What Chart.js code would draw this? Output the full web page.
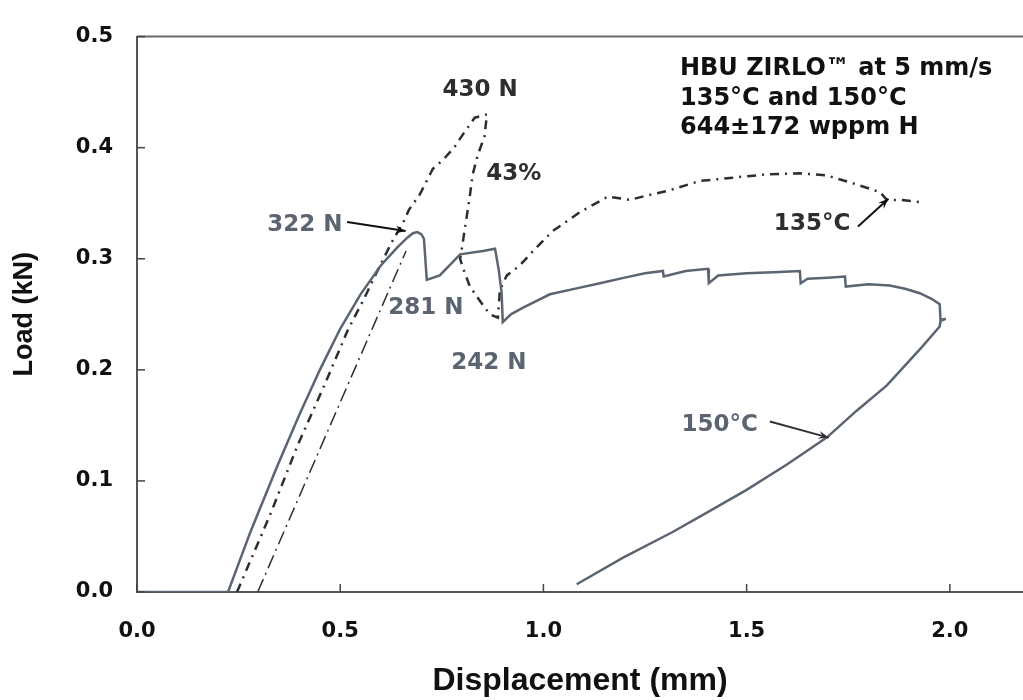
<!DOCTYPE html>
<html>
<head>
<meta charset="utf-8">
<script src="https://cdn.jsdelivr.net/npm/chart.js@4.4.0/dist/chart.umd.min.js"></script>
<style>
  html, body { margin: 0; padding: 0; background: #fff; }
</style>
</head>
<body>
<canvas id="chart" width="1023" height="700"></canvas>
<script>
// 150°C test (solid gray line), displacement in mm, load in kN
var disp150 = [0, 0.224, 0.28, 0.347, 0.40, 0.45, 0.50, 0.55, 0.60, 0.64, 0.665, 0.679, 0.69, 0.70, 0.706, 0.713,
    0.745, 0.795, 0.851, 0.881, 0.89, 0.897, 0.90, 0.92, 0.95, 1.016, 1.09, 1.139, 1.20, 1.25, 1.294, 1.296,
    1.35, 1.405, 1.407, 1.43, 1.50, 1.58, 1.631, 1.633, 1.65, 1.70, 1.742, 1.744, 1.80, 1.852, 1.89, 1.926,
    1.955, 1.975, 1.977, 1.99, 1.977, 1.975, 1.93, 1.845, 1.77, 1.697, 1.60, 1.50, 1.40, 1.318, 1.196, 1.082];
var load150 = [0, 0, 0.055, 0.115, 0.160, 0.200, 0.237, 0.268, 0.294, 0.310, 0.319, 0.323, 0.324, 0.322, 0.318, 0.281,
    0.285, 0.304, 0.307, 0.309, 0.290, 0.270, 0.243, 0.250, 0.256, 0.268, 0.274, 0.278, 0.283, 0.287, 0.289, 0.284,
    0.289, 0.291, 0.278, 0.285, 0.287, 0.288, 0.289, 0.278, 0.282, 0.283, 0.284, 0.275, 0.277, 0.276, 0.273, 0.269,
    0.264, 0.259, 0.245, 0.246, 0.244, 0.239, 0.220, 0.186, 0.163, 0.139, 0.115, 0.092, 0.071, 0.054, 0.031, 0.007];

// 135°C test (dash-dot line)
var disp135 = [0.246, 0.327, 0.394, 0.462, 0.519, 0.56, 0.59, 0.627, 0.654, 0.669, 0.696, 0.728, 0.753, 0.782,
    0.802, 0.831, 0.861, 0.855, 0.839, 0.826, 0.818, 0.80, 0.795, 0.80, 0.819, 0.844, 0.868, 0.888, 0.893, 0.91,
    0.942, 0.972, 1.023, 1.09, 1.159, 1.213, 1.255, 1.304, 1.385, 1.466, 1.55, 1.631, 1.697, 1.761, 1.828, 1.845,
    1.877, 1.926];
var load135 = [0, 0.069, 0.131, 0.187, 0.236, 0.265, 0.288, 0.315, 0.332, 0.344, 0.358, 0.381, 0.389, 0.401,
    0.412, 0.427, 0.430, 0.410, 0.394, 0.376, 0.354, 0.311, 0.300, 0.294, 0.275, 0.262, 0.250, 0.247, 0.272, 0.285,
    0.294, 0.306, 0.325, 0.342, 0.356, 0.353, 0.357, 0.361, 0.370, 0.373, 0.376, 0.377, 0.375, 0.368, 0.360, 0.353,
    0.353, 0.351];

// offset line (thin long dash-dot)
var dispOffset = [0.297, 0.662];
var loadOffset = [0, 0.307];

// axis ticks
var xTicks = [0, 0.5, 1.0, 1.5, 2.0];
var yTicks = [0, 0.1, 0.2, 0.3, 0.4, 0.5];

var GRAY = '#5b6571';
var DARK = '#2e2e2e';
var TICK_FONT = { family: 'DejaVu Sans', weight: 'bold', size: 21 };

function toPoints(xs, ys) {
    return xs.map(function (v, i) { return { x: v, y: ys[i] }; });
}

// text notes placed in data units (label centres)
var notes = [
    { text: '430 N', x: 0.844, y: 0.452, color: DARK },
    { text: '43%', x: 0.927, y: 0.376, color: DARK },
    { text: '322 N', x: 0.413, y: 0.330, color: GRAY },
    { text: '281 N', x: 0.711, y: 0.256, color: GRAY },
    { text: '242 N', x: 0.866, y: 0.206, color: GRAY },
    { text: '135°C', x: 1.661, y: 0.331, color: DARK },
    { text: '150°C', x: 1.434, y: 0.150, color: GRAY }
];
var arrows = [
    { x1: 0.517, y1: 0.333, x2: 0.661, y2: 0.325, color: '#111' },
    { x1: 1.774, y1: 0.329, x2: 1.849, y2: 0.354, color: '#111' },
    { x1: 1.557, y1: 0.1535, x2: 1.702, y2: 0.139, color: '#333' }
];
var infoLines = ['HBU ZIRLO™ at 5 mm/s', '135°C and 150°C', '644±172 wppm H'];

function drawArrow(ctx, x1, y1, x2, y2, color) {
    ctx.strokeStyle = color;
    ctx.fillStyle = color;
    ctx.lineWidth = 2;
    ctx.beginPath();
    ctx.moveTo(x1, y1);
    ctx.lineTo(x2, y2);
    ctx.stroke();
    var a = Math.atan2(y2 - y1, x2 - x1), h = 11;
    ctx.beginPath();
    ctx.moveTo(x2, y2);
    ctx.lineTo(x2 - h * Math.cos(a - 0.38), y2 - h * Math.sin(a - 0.38));
    ctx.lineTo(x2 - h * 0.6 * Math.cos(a), y2 - h * 0.6 * Math.sin(a));
    ctx.lineTo(x2 - h * Math.cos(a + 0.38), y2 - h * Math.sin(a + 0.38));
    ctx.closePath();
    ctx.fill();
}

var overlay = {
    id: 'overlay',
    afterDraw: function (chart) {
        var ctx = chart.ctx, area = chart.chartArea;
        var xs = chart.scales.x, ys = chart.scales.y;
        ctx.save();

        // top frame line
        ctx.strokeStyle = '#6a6a6a';
        ctx.lineWidth = 2;
        ctx.beginPath();
        ctx.moveTo(area.left, area.top);
        ctx.lineTo(area.right, area.top);
        ctx.stroke();

        // inward tick marks
        ctx.strokeStyle = '#444';
        ctx.lineWidth = 1.5;
        xTicks.forEach(function (v) {
            var px = xs.getPixelForValue(v);
            ctx.beginPath();
            ctx.moveTo(px, area.bottom);
            ctx.lineTo(px, area.bottom - 8);
            ctx.stroke();
        });
        yTicks.forEach(function (v) {
            var py = ys.getPixelForValue(v);
            ctx.beginPath();
            ctx.moveTo(area.left, py);
            ctx.lineTo(area.left + 8, py);
            ctx.stroke();
        });

        // notes
        ctx.font = 'bold 23px "DejaVu Sans"';
        ctx.textAlign = 'center';
        ctx.textBaseline = 'middle';
        notes.forEach(function (n) {
            ctx.fillStyle = n.color;
            ctx.fillText(n.text, xs.getPixelForValue(n.x), ys.getPixelForValue(n.y));
        });

        arrows.forEach(function (a) {
            drawArrow(ctx, xs.getPixelForValue(a.x1), ys.getPixelForValue(a.y1),
                xs.getPixelForValue(a.x2), ys.getPixelForValue(a.y2), a.color);
        });

        // info block, top right
        ctx.font = 'bold 24px "DejaVu Sans"';
        ctx.textAlign = 'left';
        ctx.textBaseline = 'alphabetic';
        ctx.fillStyle = '#111';
        var left = xs.getPixelForValue(1.336);
        infoLines.forEach(function (t, i) {
            ctx.fillText(t, left, ys.getPixelForValue(0.465 - i * 0.0265));
        });

        ctx.restore();
    }
};

var ctx = document.getElementById('chart').getContext('2d');
var chart = new Chart(ctx, {
    type: 'scatter',
    data: {
        datasets: [{
            label: '150°C',
            data: toPoints(disp150, load150),
            showLine: true,
            borderColor: GRAY,
            borderWidth: 2.5,
            pointRadius: 0,
            tension: 0
        }, {
            label: '135°C',
            data: toPoints(disp135, load135),
            showLine: true,
            borderColor: DARK,
            borderWidth: 2.5,
            borderDash: [9, 6, 2, 6],
            pointRadius: 0,
            tension: 0
        }, {
            label: 'offset',
            data: toPoints(dispOffset, loadOffset),
            showLine: true,
            borderColor: DARK,
            borderWidth: 1.5,
            borderDash: [14, 5, 2, 5],
            pointRadius: 0,
            tension: 0
        }]
    },
    options: {
        responsive: false,
        animation: false,
        layout: { padding: { top: 21, right: 0, left: 0, bottom: 0 } },
        plugins: {
            legend: { display: false },
            tooltip: { enabled: false }
        },
        scales: {
            x: {
                type: 'linear',
                min: 0,
                max: 2.18,
                afterBuildTicks: function (axis) {
                    axis.ticks = xTicks.map(function (v) { return { value: v }; });
                },
                afterFit: function (axis) { axis.height = 108; },
                grid: { display: false, drawTicks: false },
                border: { display: true, color: '#555', width: 2 },
                ticks: {
                    color: '#111',
                    font: TICK_FONT,
                    padding: 27,
                    maxRotation: 0,
                    callback: function (v) { return Number(v).toFixed(1); }
                },
                title: {
                    display: true,
                    text: 'Displacement (mm)',
                    color: '#111',
                    font: { family: 'Liberation Sans', weight: 'bold', size: 32 },
                    padding: { top: 0, bottom: 0 }
                }
            },
            y: {
                type: 'linear',
                min: 0,
                max: 0.5,
                afterBuildTicks: function (axis) {
                    axis.ticks = yTicks.map(function (v) { return { value: v }; });
                },
                afterFit: function (axis) { axis.width = 137; },
                grid: { display: false, drawTicks: false },
                border: { display: true, color: '#555', width: 2 },
                ticks: {
                    color: '#111',
                    font: TICK_FONT,
                    padding: 24,
                    callback: function (v) { return Number(v).toFixed(1); }
                },
                title: {
                    display: true,
                    text: 'Load (kN)',
                    color: '#111',
                    font: { family: 'Liberation Sans', weight: 'bold', size: 27 },
                    padding: { top: 8, bottom: 0 }
                }
            }
        }
    },
    plugins: [overlay]
});
</script>
</body>
</html>
